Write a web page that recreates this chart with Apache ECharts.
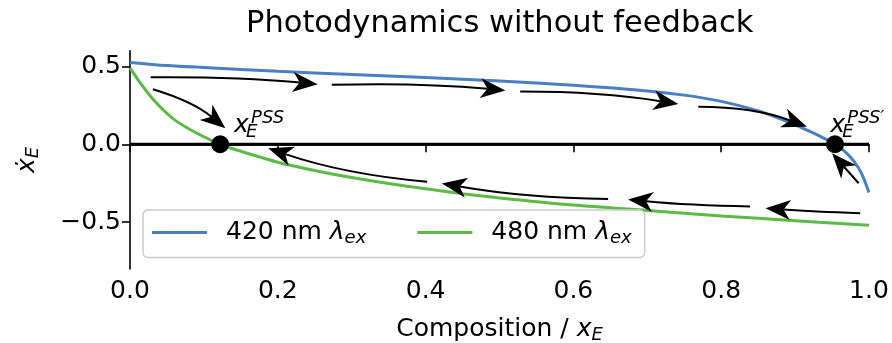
<!DOCTYPE html>
<html>
<head>
<meta charset="utf-8">
<script src="https://cdn.jsdelivr.net/npm/echarts@6/dist/echarts.min.js"></script>
<style>
html,body{margin:0;padding:0;background:#fff;}
#chart{width:892px;height:343px;}
</style>
</head>
<body>
<div id="chart"></div>
<script>
// ---- data ----
const blueX = [0, 0.05, 0.1, 0.2, 0.3, 0.4, 0.5, 0.6, 0.7, 0.75, 0.8, 0.85, 0.88, 0.9, 0.92, 0.94, 0.955, 0.97, 0.98, 0.99, 1.0];
const blueY = [0.525, 0.505, 0.492, 0.468, 0.448, 0.428, 0.405, 0.378, 0.342, 0.315, 0.275, 0.214, 0.163, 0.124, 0.082, 0.036, 0.0, -0.058, -0.112, -0.188, -0.31];
const greenX = [0, 0.01, 0.02, 0.03, 0.045, 0.06, 0.08, 0.1, 0.122, 0.15, 0.2, 0.25, 0.3, 0.35, 0.4, 0.45, 0.5, 0.6, 0.7, 0.8, 0.9, 1.0];
const greenY = [0.49, 0.42, 0.355, 0.295, 0.22, 0.158, 0.098, 0.048, 0.0, -0.045, -0.115, -0.168, -0.213, -0.252, -0.286, -0.317, -0.344, -0.39, -0.425, -0.46, -0.49, -0.52];
const seriesNames = ['420 nm', '480 nm'];
const zeroLineX = [0, 1];
const pssX = [0.122, 0.954];
const pssY = [0, 0];
// arrows: start (tail), end (tip), curvature
const arrowStart = [[0.028, 0.429], [0.273, 0.381], [0.528, 0.338], [0.769, 0.240], [0.031, 0.353], [0.402, -0.240], [0.647, -0.351], [0.839, -0.399], [0.988, -0.442], [0.986, -0.25]];
const arrowEnd = [[0.254, 0.385], [0.508, 0.345], [0.742, 0.258], [0.916, 0.112], [0.129, 0.103], [0.187, -0.026], [0.422, -0.251], [0.674, -0.355], [0.860, -0.410], [0.950, -0.058]];
const arrowBend = [0.025, 0.03, 0.04, 0.09, 0.1, 0.06, 0.04, 0.02, 0.01, 0.0];
const annoX = [0.1408, 0.9476];
const annoY = [0.075, 0.075];
const annoSup = ['PSS', 'PSS\u2032'];
const xTicks = [0, 0.2, 0.4, 0.6, 0.8, 1.0];
const yTicks = [-0.5, 0, 0.5];
const title = 'Photodynamics without feedback';

const FONT = 'DejaVu Sans';
const BLUE = '#4a7fc4';
const GREEN = '#5cba47';

function pairs(xs, ys) { return xs.map((x, i) => [x, ys[i]]); }

const arrowData = arrowStart.map((s, i) => [s[0], s[1], arrowEnd[i][0], arrowEnd[i][1], arrowBend[i]]);
const annoData = annoX.map((x, i) => [x, annoY[i], i]);

function renderArrow(params, api) {
  const p1 = api.coord([api.value(0), api.value(1)]);
  const p2 = api.coord([api.value(2), api.value(3)]);
  const k = api.value(4);
  const mx = (p1[0] + p2[0]) / 2, my = (p1[1] + p2[1]) / 2;
  const dx = p2[0] - p1[0], dy = p2[1] - p1[1];
  const cx = mx + k * dy, cy = my - k * dx;
  let tx = p2[0] - cx, ty = p2[1] - cy;
  const tl = Math.hypot(tx, ty); tx /= tl; ty /= tl;
  const L = 25, W = 10, notch = 7;
  const bx = p2[0] - tx * L, by = p2[1] - ty * L;
  const nx = -ty, ny = tx;
  const nP = [p2[0] - tx * (L - notch), p2[1] - ty * (L - notch)];
  return {
    type: 'group',
    children: [
      { type: 'bezierCurve', shape: { x1: p1[0], y1: p1[1], x2: nP[0], y2: nP[1], cpx1: cx, cpy1: cy },
        style: { stroke: '#000', lineWidth: 2, fill: null } },
      { type: 'polygon', shape: { points: [p2, [bx + nx * W, by + ny * W], nP, [bx - nx * W, by - ny * W]] },
        style: { fill: '#000', stroke: null } }
    ]
  };
}

function renderAnno(params, api) {
  const p = api.coord([api.value(0), api.value(1)]);
  const B = p[1];
  const sup = annoSup[api.value(2)];
  return {
    type: 'group',
    children: [
      { type: 'text', x: p[0], y: B - 7.5, style: { text: 'x', fontFamily: FONT, fontStyle: 'italic', fontSize: 25, fill: '#000', align: 'left', verticalAlign: 'middle' } },
      { type: 'text', x: p[0] + 12, y: B - 0.4, style: { text: 'E', fontFamily: FONT, fontStyle: 'italic', fontSize: 18, fill: '#000', align: 'left', verticalAlign: 'middle' } },
      { type: 'text', x: p[0] + 17, y: B - 14, style: { text: sup, fontFamily: FONT, fontStyle: 'italic', fontSize: 18, fill: '#000', align: 'left', verticalAlign: 'middle' } }
    ]
  };
}

const richMath = {
  n: { fontFamily: FONT, fontSize: 25, color: '#000', lineHeight: 30 },
  i: { fontFamily: FONT, fontSize: 25, fontStyle: 'italic', color: '#000', lineHeight: 30 },
  s: { fontFamily: FONT, fontSize: 18, fontStyle: 'italic', color: '#000', lineHeight: 20, verticalAlign: 'bottom' }
};

const chart = echarts.init(document.getElementById('chart'), null, { renderer: 'canvas' });
chart.setOption({
  animation: false,
  backgroundColor: '#fff',
  title: {
    text: title, left: 241, top: 4,
    textStyle: { fontFamily: FONT, fontSize: 30.5, fontWeight: 'normal', color: '#000' }
  },
  grid: { left: 130, right: 23, top: 50.7, bottom: 74, containLabel: false, outerBoundsMode: 'none' },
  legend: {
    left: 143, top: 210,
    padding: [10, 13, 10, 9],
    itemWidth: 55, itemHeight: 3, itemGap: 51,
    icon: 'rect',
    borderColor: '#cccccc', borderWidth: 1.5, borderRadius: 5,
    backgroundColor: 'rgba(255,255,255,0.8)',
    data: seriesNames,
    formatter: name => '{n|' + name + ' }{i|\u03bb}{s|ex}',
    textStyle: { fontFamily: FONT, fontSize: 25, color: '#000', padding: [0, 0, 0, 14], rich: richMath }
  },
  xAxis: {
    type: 'value', min: 0, max: 1, interval: 0.2,
    name: '{n|Composition / }{i|x}{s|E}', nameLocation: 'middle', nameGap: 45,
    nameTextStyle: { rich: richMath },
    axisLine: { show: true, lineStyle: { color: '#000', width: 1.6 } },
    axisTick: { show: true, length: 8, lineStyle: { color: '#000', width: 1.6 } },
    axisLabel: { show: true, margin: 10, fontFamily: FONT, fontSize: 25, color: '#000', showMinLabel: true, showMaxLabel: true,
      formatter: v => v.toFixed(1) },
    splitLine: { show: false }
  },
  yAxis: {
    type: 'value', min: -0.8, max: 0.6,
    name: '{i|\u1e8b}{s|E}', nameLocation: 'middle', nameRotate: 90, nameGap: 88,
    nameTextStyle: { rich: richMath },
    axisLine: { show: true, lineStyle: { color: '#000', width: 1.6 } },
    axisTick: { show: true, length: 8, customValues: yTicks, lineStyle: { color: '#000', width: 1.6 } },
    axisLabel: { show: true, margin: 9, customValues: yTicks, fontFamily: FONT, fontSize: 25, color: '#000',
      formatter: v => (v < 0 ? '\u2212' : '') + Math.abs(v).toFixed(1) },
    splitLine: { show: false }
  },
  series: [
    { name: seriesNames[0], type: 'line', data: pairs(blueX, blueY), showSymbol: false, smooth: 0.3,
      lineStyle: { color: BLUE, width: 3 }, itemStyle: { color: BLUE }, z: 2 },
    { name: seriesNames[1], type: 'line', data: pairs(greenX, greenY), showSymbol: false, smooth: 0.3,
      lineStyle: { color: GREEN, width: 3 }, itemStyle: { color: GREEN }, z: 2 },
    { name: 'zero', type: 'line', data: zeroLineX.map(x => [x, 0]), showSymbol: false,
      lineStyle: { color: '#000', width: 3 }, z: 3, silent: true },
    { name: 'arrows', type: 'custom', renderItem: renderArrow, data: arrowData, z: 4, silent: true, clip: false },
    { name: 'pss', type: 'scatter', data: pairs(pssX, pssY), symbolSize: 18, itemStyle: { color: '#000', opacity: 1 }, z: 5, silent: true },
    { name: 'anno', type: 'custom', renderItem: renderAnno, data: annoData, z: 6, silent: true, clip: false }
  ]
});
</script>
</body>
</html>
